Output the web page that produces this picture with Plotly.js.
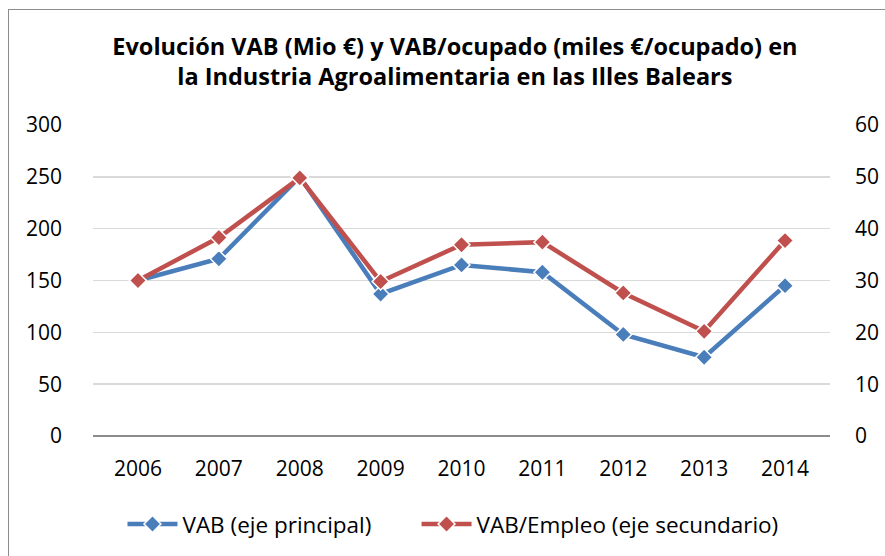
<!DOCTYPE html>
<html>
<head>
<meta charset="utf-8">
<script src="https://cdn.plot.ly/plotly-3.0.1.min.js"></script>
<style>
html,body{margin:0;padding:0;background:#fff;overflow:hidden;}
#chart{width:885px;height:556px;position:relative;}
#frame{position:absolute;left:8px;top:9px;width:900px;height:600px;border:1.5px solid #8c8c8c;pointer-events:none;box-sizing:border-box;}
</style>
</head>
<body>
<div id="chart"></div>
<div id="frame"></div>
<script>
const years = ['2006','2007','2008','2009','2010','2011','2012','2013','2014'];
const vab = [150, 171, 250, 137, 165, 158, 98, 76, 145];
const vabEmpleo = [30, 38.3, 49.8, 29.8, 36.9, 37.4, 27.6, 20.2, 37.7];
const seriesNames = ['VAB (eje principal)', 'VAB/Empleo (eje secundario)'];
const titleText = 'Evolución VAB (Mio €) y VAB/ocupado (miles €/ocupado) en<br>la Industria Agroalimentaria en las Illes Balears';

const font = 'Open Sans, Lato, sans-serif';
const traces = [
  {x: years, y: vab, name: seriesNames[0], type: 'scatter', mode: 'lines+markers', legend: 'legend',
   line: {color: '#4a7ebb', width: 4.5},
   marker: {symbol: 'diamond', size: 13, color: '#4a7ebb', line: {color: '#fff', width: 1.5}}},
  {x: years, y: vabEmpleo, name: seriesNames[1], type: 'scatter', mode: 'lines+markers', yaxis: 'y2', legend: 'legend2',
   line: {color: '#c0504d', width: 4.5},
   marker: {symbol: 'diamond', size: 13, color: '#c0504d', line: {color: '#fff', width: 1.5}}}
];
const legendStyle = {orientation: 'h', xanchor: 'left', y: -0.215, yanchor: 'top',
                     font: {family: font, size: 22.5}, itemwidth: 50, bgcolor: 'rgba(0,0,0,0)'};
const layout = {
  width: 885, height: 556,
  margin: {l: 93, r: 55, t: 125, b: 120, autoexpand: false},
  paper_bgcolor: '#fff', plot_bgcolor: '#fff',
  font: {family: font, color: '#000', size: 21},
  title: {text: '<b>' + titleText + '</b>', x: 0.514, xanchor: 'center', y: 0.9016, yanchor: 'middle',
          font: {family: font, size: 23.5, color: '#000'}},
  showlegend: true,
  legend: Object.assign({x: 0.04}, legendStyle),
  legend2: Object.assign({x: 0.439}, legendStyle),
  xaxis: {type: 'category', showgrid: false, zeroline: false, showline: false,
          ticks: '', ticklabelstandoff: 18, tickfont: {size: 21}},
  yaxis: {range: [0, 300], dtick: 50, showgrid: true, gridcolor: '#d9d9d9', gridwidth: 1.5,
          zeroline: true, zerolinecolor: '#8c8c8c', zerolinewidth: 1.5, showline: false,
          ticks: '', ticklabelstandoff: 30, tickfont: {size: 21}, fixedrange: true},
  yaxis2: {range: [0, 60], dtick: 10, overlaying: 'y', side: 'right', showgrid: false,
           zeroline: false, showline: false, ticks: '', ticklabelstandoff: 24, tickfont: {size: 21}}
};
Plotly.newPlot('chart', traces, layout, {displayModeBar: false, staticPlot: true});
</script>
</body>
</html>
